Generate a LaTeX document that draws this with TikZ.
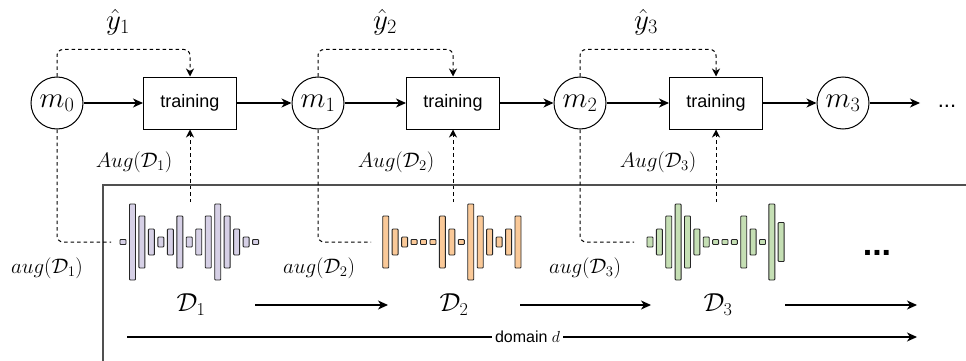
\RequirePackage{fix-cm}
\documentclass[tikz,border=0pt]{standalone}
\usepackage{fontspec}
\setsansfont{Liberation Sans}
\usetikzlibrary{arrows.meta,calc}
\definecolor{wavepurple}{RGB}{214,208,230}
\definecolor{waveorange}{RGB}{250,201,152}
\definecolor{wavegreen}{RGB}{197,223,180}
\definecolor{boxgray}{RGB}{80,80,80}
\newcommand{\fbig}{\fontsize{29}{32}\selectfont}
\newcommand{\fmid}{\fontsize{21}{24}\selectfont}
\newcommand{\fsmall}{\fontsize{16}{18}\selectfont}
\newcommand{\fdom}{\fontsize{26}{28}\selectfont}
\newcommand{\drawwave}[4]{%
  \foreach \h [count=\i from 0] in {#4} {%
    \draw[barstyle, fill=#3] ({#1+\i*#2-3},{242-\h/2}) rectangle ++(6,\h);}}
\begin{document}
\begin{tikzpicture}[x=1pt,y=-1pt,
  model/.style={circle, draw, line width=1pt, minimum size=52pt, inner sep=0pt, font=\fbig},
  trainbox/.style={draw, line width=1pt, minimum width=93pt, minimum height=52pt, inner sep=0pt,
    font=\sffamily\fontsize{18}{20}\selectfont},
  flow/.style={-{Stealth[length=10pt,width=9pt,inset=3pt]}, line width=1.1pt},
  dashline/.style={dash pattern=on 3.5pt off 3pt, line width=1pt, rounded corners=6pt},
  dasharrow/.style={dashline, -{Stealth[length=8pt,width=8pt,inset=2.5pt]}},
  barstyle/.style={line width=0.9pt, draw=black!85, rounded corners=0.8pt},
  lbl/.style={inner sep=0pt}]
\useasboundingbox (0,0) rectangle (966,361);

% big frame
\draw[boxgray, line width=1.4pt] (103,362) -- (103,185) -- (967,185);

% models and training boxes
\node[model] (m0) at (57,103) {$m_0$};
\node[trainbox] (t1) at (190,103) {training};
\node[model] (m1) at (318,103) {$m_1$};
\node[trainbox] (t2) at (453,103) {training};
\node[model] (m2) at (580,103) {$m_2$};
\node[trainbox] (t3) at (716,103) {training};
\node[model] (m3) at (843,103) {$m_3$};
\coordinate (mend) at (920,103);
\node[lbl, font=\sffamily\fontsize{22}{24}\selectfont] (dots1) at (947,106) {...};

\draw[flow] (m0) -- (t1);
\draw[flow] (t1) -- (m1);
\draw[flow] (m1) -- (t2);
\draw[flow] (t2) -- (m2);
\draw[flow] (m2) -- (t3);
\draw[flow] (t3) -- (m3);
\draw[flow] (m3) -- (mend);

% yhat loops
\node[lbl, font=\fbig] (y1) at (118,22) {$\hat{y}_1$};
\node[lbl, font=\fbig] (y2) at (385,22) {$\hat{y}_2$};
\node[lbl, font=\fbig] (y3) at (646,22) {$\hat{y}_3$};
\draw[dasharrow] (m0.north) -- ++(0,-27) -| (t1.north);
\draw[dasharrow] (m1.north) -- ++(0,-27) -| (t2.north);
\draw[dasharrow] (m2.north) -- ++(0,-27) -| (t3.north);

% Aug labels
\node[lbl, font=\fmid] (A1) at (134,162) {$Aug(\mathcal{D}_1)$};
\node[lbl, font=\fmid] (A2) at (396,162) {$Aug(\mathcal{D}_2)$};
\node[lbl, font=\fmid] (A3) at (658,162) {$Aug(\mathcal{D}_3)$};

% waveforms
\drawwave{123}{9.47}{wavepurple}{5,76,52,26,10,26,52,10,26,52,76,52,26,10,5}
\drawwave{385.7}{9.45}{waveorange}{52,26,10,5,5,5,52,26,5,76,52,26,10,26,52}
\drawwave{650}{9.37}{wavegreen}{10,26,52,76,52,26,10,5,5,5,52,26,5,76,39}

% dashed links models -> waveforms
\coordinate (a1) at (111,242);
\coordinate (a2) at (371,242);
\coordinate (a3) at (634,242);
\draw[dashline] (m0.south) |- (a1);
\draw[dashline] (m1.south) |- (a2);
\draw[dashline] (m2.south) |- (a3);

% dashed arrows waveforms -> training
\coordinate (w1) at (190,202);
\coordinate (w2) at (453,202);
\coordinate (w3) at (716,202);
\draw[dasharrow] (w1) -- (t1.south);
\draw[dasharrow] (w2) -- (t2.south);
\draw[dasharrow] (w3) -- (t3.south);

% aug labels
\node[lbl, font=\fmid] (s1) at (47,268) {$aug(\mathcal{D}_1)$};
\node[lbl, font=\fmid] (s2) at (319,268) {$aug(\mathcal{D}_2)$};
\node[lbl, font=\fmid] (s3) at (585,268) {$aug(\mathcal{D}_3)$};

% bold dots
\node[lbl, font=\sffamily\bfseries\fontsize{34}{36}\selectfont] (dots2) at (877,253) {...};

% domain labels and arrows
\node[lbl, font=\fdom] (D1) at (191,305) {$\mathcal{D}_1$};
\node[lbl, font=\fdom] (D2) at (454,305) {$\mathcal{D}_2$};
\node[lbl, font=\fdom] (D3) at (718,305) {$\mathcal{D}_3$};
\coordinate (r1a) at (255,305); \coordinate (r1b) at (388,305);
\coordinate (r2a) at (520,305); \coordinate (r2b) at (651,305);
\coordinate (r3a) at (785,305); \coordinate (r3b) at (917,305);
\draw[flow] (r1a) -- (r1b);
\draw[flow] (r2a) -- (r2b);
\draw[flow] (r3a) -- (r3b);

\coordinate (da) at (127,337); \coordinate (db) at (917,337);
\draw[flow] (da) -- node[pos=0.507, fill=white, inner sep=3pt, font=\sffamily\fsmall] (dom) {domain $d$} (db);
\end{tikzpicture}
\end{document}
